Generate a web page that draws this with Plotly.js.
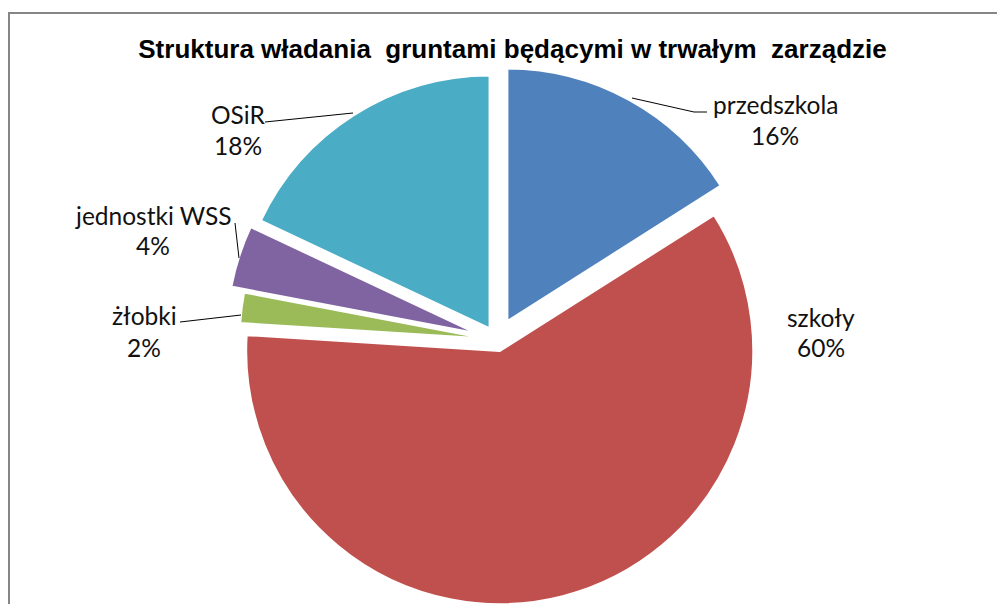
<!DOCTYPE html>
<html><head><meta charset="utf-8">
<script src="https://cdn.plot.ly/plotly-3.0.1.min.js"></script>
<style>html,body{margin:0;padding:0;overflow:hidden;background:#fff}#chart{width:997px;height:640px}</style>
</head><body><div id="chart"></div>
<script>
// ---- data ----
const categories = ['przedszkola', 'szkoły', 'żłobki', 'jednostki WSS', 'OSiR'];
const shares = [16, 60, 2, 4, 18];
const pulls = [0.081, 0.043, 0.015, 0.069, 0.051];
const titleText = 'Struktura władania\u00a0 gruntami będącymi w trwałym\u00a0 zarządzie';

// ---- layout helpers ----
const W = 997, H = 640;
const fx = p => p / W, fy = p => 1 - p / H;
const total = shares.reduce((a, b) => a + b, 0);
const pct = shares.map(v => Math.round(v / total * 100) + '%');

const cx = 497, cy = 340, half = 274.6;

const trace = {
  type: 'pie',
  labels: categories,
  values: shares,
  sort: false,
  direction: 'clockwise',
  rotation: 0,
  pull: pulls,
  textinfo: 'none',
  hoverinfo: 'label+percent',
  showlegend: false,
  marker: {
    colors: ['#4F81BD', '#C0504D', '#9BBB59', '#8064A2', '#4BACC6'],
    line: {color: '#ffffff', width: 3}
  },
  domain: {x: [fx(cx - half), fx(cx + half)], y: [fy(cy + half), fy(cy - half)]}
};

// label placement (centre x, baseline y of the name line, baseline y of the percent line)
const labelPos = [
  [775, 112, 143],
  [821, 325, 355],
  [144, 323, 355],
  [153, 223, 253],
  [238, 122, 153]
];
const fs = 24.5;
const annotations = [];
labelPos.forEach((p, i) => {
  annotations.push({xref: 'paper', yref: 'paper', x: fx(p[0]), y: fy(p[1] - 7.5), text: categories[i],
    showarrow: false, xanchor: 'center', yanchor: 'middle', font: {family: 'Lato, sans-serif', size: fs, color: '#111'}});
  annotations.push({xref: 'paper', yref: 'paper', x: fx(p[0]), y: fy(p[2] - 7.5), text: pct[i],
    showarrow: false, xanchor: 'center', yanchor: 'middle', font: {family: 'Lato, sans-serif', size: fs, color: '#111'}});
});

// leader lines
const leaders = [
  [[632, 98], [694, 112], [707, 112]],
  [[265, 122], [353, 113]],
  [[235, 223], [239, 258]],
  [[180, 322], [241, 315]]
];
const shapes = leaders.map(pts => ({
  type: 'path', xref: 'paper', yref: 'paper',
  path: pts.map((q, k) => (k ? 'L' : 'M') + fx(q[0]) + ',' + fy(q[1])).join(' '),
  line: {color: '#000', width: 1}
}));
// chart border
shapes.push({type: 'rect', xref: 'paper', yref: 'paper', x0: fx(9), x1: 1.05, y0: -0.05, y1: fy(13),
  line: {color: '#868686', width: 2}, layer: 'below'});

const layout = {
  width: W, height: H,
  margin: {l: 0, r: 0, t: 0, b: 0},
  paper_bgcolor: '#fff',
  title: {text: '<b>' + titleText + '</b>', x: fx(512.5), xanchor: 'center', y: fy(49), yanchor: 'middle',
    yref: 'container', font: {family: 'Liberation Sans, Arial, sans-serif', size: 26, color: '#000'}},
  annotations: annotations,
  shapes: shapes
};

Plotly.newPlot('chart', [trace], layout, {displayModeBar: false, staticPlot: true});
</script>
</body></html>
